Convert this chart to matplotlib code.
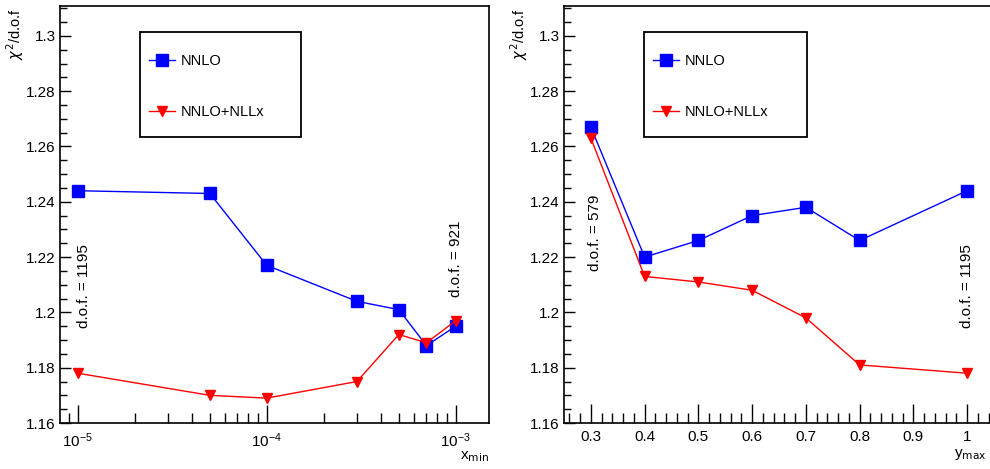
import matplotlib
matplotlib.use("Agg")
import matplotlib.pyplot as plt
from matplotlib.ticker import MultipleLocator, LogLocator, NullFormatter
from matplotlib.patches import Rectangle
from matplotlib.lines import Line2D

plt.rcParams['font.family'] = ['Liberation Sans', 'DejaVu Sans']

# ---- data ----
xmin_vals = [1e-5, 5e-5, 1e-4, 3e-4, 5e-4, 7e-4, 1e-3]
nnlo_x = [1.244, 1.243, 1.217, 1.204, 1.201, 1.188, 1.195]
nllx_x = [1.178, 1.170, 1.169, 1.175, 1.192, 1.189, 1.197]

ymax_vals = [0.3, 0.4, 0.5, 0.6, 0.7, 0.8, 1.0]
nnlo_y = [1.267, 1.220, 1.226, 1.235, 1.238, 1.226, 1.244]
nllx_y = [1.263, 1.213, 1.211, 1.208, 1.198, 1.181, 1.178]

series_labels = ["NNLO", "NNLO+NLLx"]
dof_left = ["d.o.f. = 1195", "d.o.f. = 921"]
dof_right = ["d.o.f. = 579", "d.o.f. = 1195"]

fig = plt.figure(figsize=(9.9, 4.69), dpi=100)
axL = fig.add_axes([60/990, 1-423/469, 429/990, 417/469])
axR = fig.add_axes([564/990, 1-423/469, 430/990, 417/469])

blue = '#0000ff'
red = '#ff0000'

def style_y(ax, ylab_x):
    ax.set_ylim(1.16, 1.3108)
    ax.yaxis.set_major_locator(MultipleLocator(0.02))
    ax.yaxis.set_minor_locator(MultipleLocator(0.005))
    ax.yaxis.set_major_formatter(plt.FuncFormatter(lambda v, p: ('%.2f' % v).rstrip('0').rstrip('.')))
    ax.tick_params(axis='y', which='major', direction='in', length=8, width=1, labelsize=11, pad=3)
    ax.tick_params(axis='y', which='minor', direction='in', length=5, width=1)
    ax.tick_params(right=False, top=False)
    for s in ax.spines.values():
        s.set_linewidth(1.2)
    ax.text(ylab_x, 0.995, r'$\chi^2$/d.o.f', transform=ax.transAxes, rotation=90,
            ha='center', va='top', fontsize=10.5)

def legend_box(ax, x0, y0, w, h):
    ax.add_patch(Rectangle((x0, y0), w, h, transform=ax.transAxes, fill=True,
                           facecolor='white', edgecolor='black', lw=1.3, zorder=5))
    h1 = Line2D([], [], color=blue, marker='s', ms=8, lw=1)
    h2 = Line2D([], [], color=red, marker='v', ms=7, lw=1)
    leg = ax.legend([h1, h2], series_labels, loc='upper left',
                    bbox_to_anchor=(x0 - 0.01, y0 + h - 0.022), frameon=False,
                    fontsize=10.5, labelspacing=2.55, handlelength=1.8, handletextpad=0.4)
    leg.set_zorder(6)

# ---- left panel ----
axL.plot(xmin_vals, nnlo_x, color=blue, marker='s', ms=8.5, lw=1)
axL.plot(xmin_vals, nllx_x, color=red, marker='v', ms=7.5, lw=1)
axL.set_xscale('log')
axL.set_xlim(8.05e-6, 1.5e-3)
axL.xaxis.set_major_locator(LogLocator(base=10, numticks=10))
axL.xaxis.set_minor_locator(LogLocator(base=10, subs=range(2, 10), numticks=20))
axL.xaxis.set_minor_formatter(NullFormatter())
axL.tick_params(axis='x', which='major', direction='in', length=13, width=1, labelsize=11, pad=6)
axL.tick_params(axis='x', which='minor', direction='in', length=7, width=1)
style_y(axL, -0.105)
axL.text(1.0, -0.062, r'x$_{\rm min}$', transform=axL.transAxes, ha='right', va='top', fontsize=11)
axL.text(1.08e-5, 1.2095, dof_left[0], rotation=90, ha='center', va='center', fontsize=11)
axL.text(1.0e-3, 1.2193, dof_left[1], rotation=90, ha='center', va='center', fontsize=11)
legend_box(axL, (140-60)/429, 1-(137-6)/417, 161/429, 105/417)

# ---- right panel ----
axR.plot(ymax_vals, nnlo_y, color=blue, marker='s', ms=8.5, lw=1)
axR.plot(ymax_vals, nllx_y, color=red, marker='v', ms=7.5, lw=1)
axR.set_xlim(0.25, 1.05)
axR.xaxis.set_major_locator(MultipleLocator(0.1))
axR.xaxis.set_minor_locator(MultipleLocator(0.02))
axR.xaxis.set_major_formatter(plt.FuncFormatter(lambda v, p: ('%.1f' % v).rstrip('0').rstrip('.')))
axR.tick_params(axis='x', which='major', direction='in', length=14, width=1, labelsize=11, pad=5)
axR.tick_params(axis='x', which='minor', direction='in', length=7, width=1)
style_y(axR, -0.105)
axR.text(0.984, -0.058, r'y$_{\rm max}$', transform=axR.transAxes, ha='right', va='top', fontsize=11)
axR.text(0.308, 1.2286, dof_right[0], rotation=90, ha='center', va='center', fontsize=11)
axR.text(1.0, 1.2095, dof_right[1], rotation=90, ha='center', va='center', fontsize=11)
legend_box(axR, (644-564)/430, 1-(137-6)/417, 163/430, 105/417)

fig.savefig('out.png', dpi=100)
